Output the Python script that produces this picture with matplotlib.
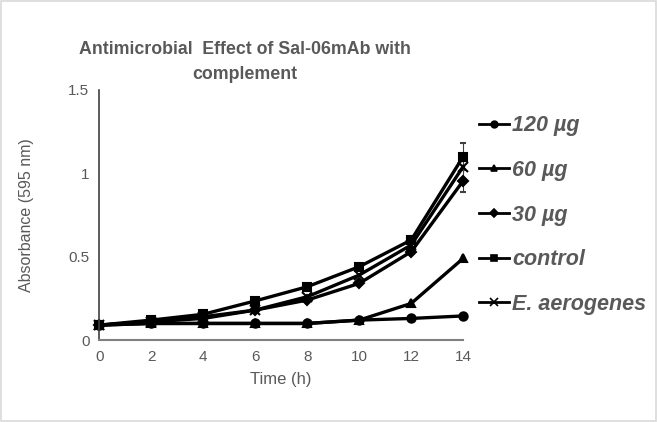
import numpy as np
import matplotlib
matplotlib.use("Agg")
import matplotlib.pyplot as plt
from matplotlib.patches import Rectangle
from matplotlib.lines import Line2D

plt.rcParams['font.family'] = ['Liberation Sans', 'DejaVu Sans']

## dati
time_h = [0, 2, 4, 6, 8, 10, 12, 14]
ug120 = [0.09, 0.10, 0.10, 0.10, 0.10, 0.12, 0.13, 0.145]
ug60 = [0.09, 0.10, 0.10, 0.10, 0.10, 0.12, 0.22, 0.49]
ug30 = [0.09, 0.11, 0.13, 0.18, 0.24, 0.34, 0.53, 0.955]
control = [0.09, 0.12, 0.155, 0.235, 0.32, 0.44, 0.60, 1.10]
e_aero = [0.09, 0.11, 0.14, 0.18, 0.26, 0.39, 0.57, 1.04]
err_control = [0, 0, 0, 0, 0, 0, 0.01, 0.08]
err_30 = [0, 0, 0, 0, 0, 0, 0.01, 0.065]

labels = ["120 µg", "60 µg", "30 µg", "control", "E. aerogenes"]
series = [ug120, ug60, ug30, control, e_aero]
errs = [None, None, err_30, err_control, None]
markers = ["o", "^", "D", "s", "x"]
msizes = [6, 6, 5, 6, 7]

grey = "#595959"

fig = plt.figure(figsize=(6.57, 4.22), dpi=100)
ax = fig.add_axes([0.151, 0.194, 0.554, 0.593])

handles = []
for y, lab, m, ms, e in zip(series, labels, markers, msizes, errs):
    ax.errorbar(time_h, y, yerr=e, color="black", lw=2.4, marker=m, ms=ms,
                mew=1.5, ecolor="#404040", elinewidth=0.8, capsize=2.5,
                clip_on=False)
    handles.append(Line2D([], [], color="black", lw=2.0, marker=m, ms=ms * 0.8,
                          mew=1.2, label=lab))

ax.set_xlim(0, 14)
ax.set_ylim(0, 1.5)
ax.set_xticks(range(0, 15, 2))
ax.set_yticks([0, 0.5, 1, 1.5])
ax.set_yticklabels(["0", "0.5", "1", "1.5"])
ax.tick_params(axis="both", colors=grey, labelsize=11, length=0, pad=7)
for s in ["top", "right"]:
    ax.spines[s].set_visible(False)
ax.spines["left"].set_color("#404040")
ax.spines["bottom"].set_color("#808080")
ax.spines["left"].set_linewidth(1.2)
ax.spines["bottom"].set_linewidth(1.5)

ax.set_xlabel("Time (h)", color=grey, fontsize=12, labelpad=6)
ax.set_ylabel("Absorbance (595 nm)", color=grey, fontsize=11.5, labelpad=25)

fig.text(245 / 657, 1 - 62 / 422, "Antimicrobial  Effect of Sal-06mAb with\ncomplement",
         ha="center", va="center", multialignment="center", fontsize=12.8,
         fontweight="bold", color=grey, linespacing=1.6)

leg = ax.legend(handles=handles, loc="center left", bbox_to_anchor=(0.99, 0.5),
                frameon=False,
                prop={"size": 15.5, "weight": "bold", "style": "italic"},
                labelspacing=1.1, handlelength=1.4, handletextpad=0.15)
for t in leg.get_texts():
    t.set_color(grey)

fig.patches.append(Rectangle((0.002, 0.003), 0.996, 0.994, transform=fig.transFigure,
                             fill=False, edgecolor="#d9d9d9", lw=1.2))

plt.savefig("out.png", dpi=100)
